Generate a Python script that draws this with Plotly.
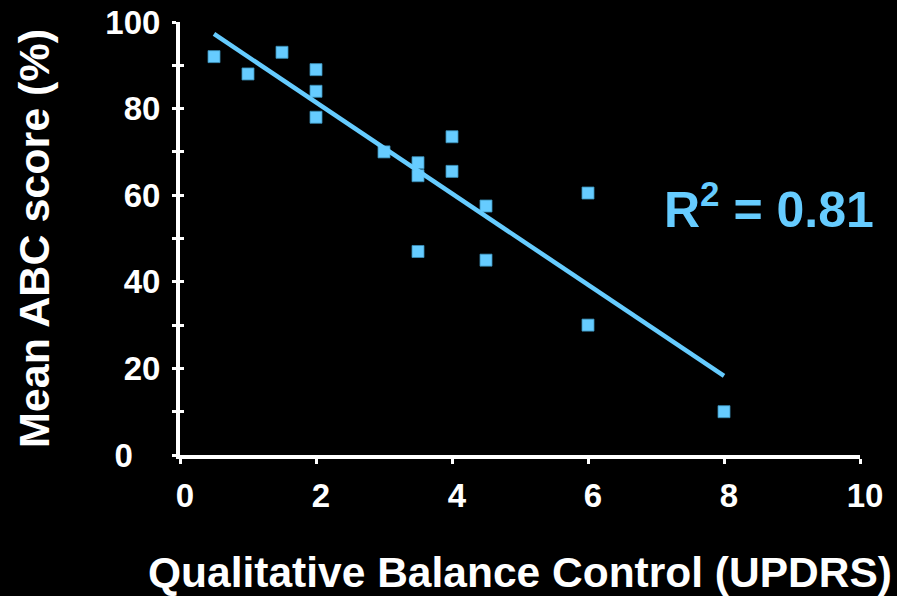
import plotly.graph_objects as go

# UPDRS balance score vs mean ABC score
updrs = [0.5, 1.0, 1.5, 2.0, 2.0, 2.0, 3.0, 3.5, 3.5, 3.5, 4.0, 4.0, 4.5, 4.5, 6.0, 6.0, 8.0]
abc = [92, 88, 93, 89, 84, 78, 70, 67.5, 64.5, 47, 73.5, 65.5, 57.5, 45, 60.5, 30, 10]

# Linear fit shown on the chart
fit_x = [0.5, 8.0]
fit_slope = -10.53
fit_intercept = 102.5
fit_y = [fit_intercept + fit_slope * v for v in fit_x]
r2_label = "R<sup>2</sup> = 0.81"

x_ticks = [0, 2, 4, 6, 8, 10]
y_ticks = [0, 20, 40, 60, 80, 100]
# the zero label sits a little further left than the others
y_ticktext = [str(v) + ("\u00a0\u00a0\u00a0" if v == 0 else "") for v in y_ticks]

blue = "#66CCFF"
font_family = "Liberation Sans, Arial, sans-serif"

fig = go.Figure()
fig.add_trace(go.Scatter(
    x=updrs, y=abc, mode="markers",
    marker=dict(symbol="square", size=12, color=blue, line=dict(width=0.8, color="#3a8fb8")),
    showlegend=False, cliponaxis=False,
))
fig.add_trace(go.Scatter(
    x=fit_x, y=fit_y, mode="lines",
    line=dict(color=blue, width=4.5),
    showlegend=False,
))
# inner half of the crossing y ticks
fig.add_trace(go.Scatter(x=[None], y=[None], yaxis="y2", showlegend=False))

fig.update_layout(
    width=897, height=596,
    paper_bgcolor="black", plot_bgcolor="black",
    margin=dict(l=180, r=37, t=22, b=141),
    font=dict(family=font_family, color="white"),
    xaxis=dict(
        range=[0, 10], tickvals=x_ticks, ticktext=[str(v) for v in x_ticks],
        showgrid=False, zeroline=False, automargin=False,
        showline=True, linecolor="white", linewidth=4,
        ticks="outside", ticklen=5, tickwidth=3, tickcolor="white",
        tickfont=dict(size=33, family=font_family, color="white", weight="bold"),
        ticklabelstandoff=3, ticklabelshift=5,
        title=dict(text="<b>Qualitative Balance Control (UPDRS)</b>",
                   font=dict(size=42.5, family=font_family, color="white"), standoff=47),
    ),
    yaxis=dict(
        range=[0, 100], tickvals=y_ticks, ticktext=y_ticktext,
        showgrid=False, zeroline=False, automargin=False,
        showline=True, linecolor="white", linewidth=4,
        ticks="outside", ticklen=4, tickwidth=3, tickcolor="white",
        minor=dict(ticks="outside", dtick=10, ticklen=4, tickwidth=3, tickcolor="white"),
        tickfont=dict(size=33, family=font_family, color="white", weight="bold"),
        ticklabelstandoff=5,
        title=dict(text="<b>Mean ABC score (%)</b>",
                   font=dict(size=43, family=font_family, color="white"), standoff=43),
    ),
    yaxis2=dict(
        overlaying="y", side="left", range=[0, 100], tickvals=y_ticks, automargin=False,
        showticklabels=False, showgrid=False, zeroline=False, showline=False,
        ticks="inside", ticklen=4, tickwidth=3, tickcolor="white",
        minor=dict(ticks="inside", dtick=10, ticklen=4, tickwidth=3, tickcolor="white"),
    ),
    annotations=[dict(
        x=1.023, y=0.575, xref="paper", yref="paper", xanchor="right", yanchor="middle",
        text="<b>" + r2_label + "</b>", showarrow=False,
        font=dict(size=50, family=font_family, color=blue),
    )],
)

fig.write_html("out.html")
